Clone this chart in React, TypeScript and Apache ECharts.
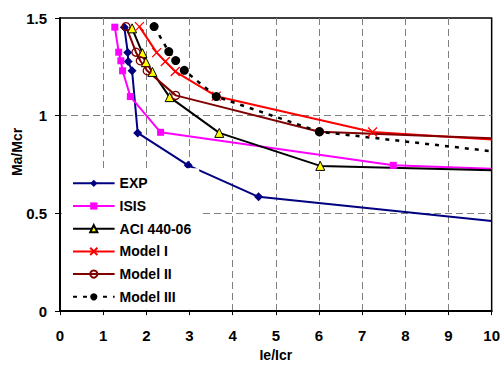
import React, { useEffect, useRef } from "react";
import * as echarts from "echarts";

const seriesNames = ["EXP", "ISIS", "ACI 440-06", "Model I", "Model II", "Model III"];

// last point of each series is where the curve meets the right edge of the plot (no marker)
const expX = [1.49, 1.57, 1.58, 1.67, 1.80, 2.97, 4.60, 10];
const expY = [1.453, 1.323, 1.277, 1.230, 0.912, 0.746, 0.585, 0.461];

const isisX = [1.27, 1.36, 1.41, 1.45, 1.63, 2.33, 7.72, 10];
const isisY = [1.453, 1.325, 1.281, 1.230, 1.098, 0.915, 0.746, 0.728];

const aciX = [1.67, 1.91, 1.99, 2.14, 2.54, 3.69, 6.03, 10];
const aciY = [1.447, 1.320, 1.274, 1.224, 1.095, 0.912, 0.743, 0.721];

const model1X = [1.84, 2.24, 2.44, 2.67, 3.62, 7.24, 10];
const model1Y = [1.456, 1.323, 1.277, 1.226, 1.100, 0.917, 0.878];

const model2X = [1.53, 1.76, 1.86, 2.02, 2.68, 6.01, 10];
const model2Y = [1.456, 1.325, 1.281, 1.230, 1.104, 0.918, 0.885];

const model3X = [2.18, 2.52, 2.68, 2.88, 3.62, 6.01, 10];
const model3Y = [1.456, 1.328, 1.282, 1.232, 1.098, 0.918, 0.818];

const xTickMin = 0;
const xTickMax = 10;
const yTickMin = 0;
const yTickMax = 1.5;

function toData(xs: number[], ys: number[]) {
  return xs.map((x, i) =>
    i === xs.length - 1 ? { value: [x, ys[i]], symbol: "none" } : [x, ys[i]]
  );
}

const FONT = "Liberation Sans, Arial, sans-serif";

export default function App() {
  const ref = useRef<HTMLDivElement>(null);
  useEffect(() => {
    if (!ref.current) return;
    const chart = echarts.init(ref.current, undefined, { renderer: "svg" });
    const gridLine = { show: true, showMinLine: false, showMaxLine: false, lineStyle: { color: "#808080", type: [7, 4], width: 1 } };
    const option: any = {
      animation: false,
      backgroundColor: "#fff",
      textStyle: { fontFamily: FONT },
      grid: {
        left: 60,
        top: 18,
        right: 7.5,
        bottom: 55,
        show: true,
        borderColor: "#000",
        borderWidth: 1.5,
        containLabel: false,
      },
      xAxis: {
        type: "value",
        min: xTickMin,
        max: xTickMax,
        interval: 1,
        name: "Ie/Icr",
        nameLocation: "middle",
        nameGap: 34,
        nameTextStyle: { fontSize: 14, fontWeight: "bold", color: "#000", fontFamily: FONT },
        axisLine: { lineStyle: { color: "#000", width: 2 } },
        axisTick: { show: true, length: 4, lineStyle: { color: "#000", width: 1 } },
        axisLabel: { fontSize: 15, fontWeight: "bold", color: "#000", margin: 17, fontFamily: FONT },
        splitLine: gridLine,
      },
      yAxis: {
        type: "value",
        min: yTickMin,
        max: yTickMax,
        interval: 0.5,
        axisLine: { show: true, lineStyle: { color: "#000", width: 2 } },
        axisTick: { show: true, length: 5, lineStyle: { color: "#000", width: 1 } },
        axisLabel: { fontSize: 15, fontWeight: "bold", color: "#000", margin: 13, fontFamily: FONT },
        splitLine: gridLine,
      },
      graphic: [
        {
          type: "text",
          x: 16.5,
          y: 152,
          rotation: Math.PI / 2,
          style: {
            text: "Ma/Mcr",
            fontSize: 14,
            fontWeight: "bold",
            fontFamily: FONT,
            fill: "#000",
            align: "center",
            verticalAlign: "middle",
          },
        },
      ],
      legend: {
        orient: "vertical",
        left: 62,
        top: 168.3,
        padding: [7, 8, 5, 10],
        backgroundColor: "#fff",
        itemWidth: 41.6,
        itemHeight: 9,
        itemGap: 6.7,
        textStyle: { fontSize: 14, fontWeight: "bold", color: "#000", lineHeight: 16, fontFamily: FONT },
        data: seriesNames,
      },
      series: [
        {
          name: seriesNames[0],
          type: "line",
          data: toData(expX, expY),
          symbol: "diamond",
          symbolSize: 9,
          lineStyle: { color: "#000080", width: 2 },
          itemStyle: { color: "#000080" },
        },
        {
          name: seriesNames[1],
          type: "line",
          data: toData(isisX, isisY),
          symbol: "rect",
          symbolSize: 7,
          lineStyle: { color: "#FF00FF", width: 2 },
          itemStyle: { color: "#FF00FF" },
        },
        {
          name: seriesNames[2],
          type: "line",
          data: toData(aciX, aciY),
          symbol: "triangle",
          symbolSize: 9,
          lineStyle: { color: "#000000", width: 2 },
          itemStyle: { color: "#FFFF00", borderColor: "#000", borderWidth: 1 },
        },
        {
          name: seriesNames[3],
          type: "line",
          data: toData(model1X, model1Y),
          symbol: "path://M0,0L10,10M10,0L0,10",
          symbolSize: 9,
          lineStyle: { color: "#FF0000", width: 2 },
          itemStyle: { color: "#FF0000", borderColor: "#FF0000", borderWidth: 1.3 },
        },
        {
          name: seriesNames[4],
          type: "line",
          data: toData(model2X, model2Y),
          symbol: "circle",
          symbolSize: 8,
          lineStyle: { color: "#800000", width: 2 },
          itemStyle: { color: "rgba(255,255,255,0)", borderColor: "#800000", borderWidth: 1.3 },
        },
        {
          name: seriesNames[5],
          type: "line",
          data: toData(model3X, model3Y),
          symbol: "circle",
          symbolSize: 9,
          lineStyle: { color: "#000000", width: 2.5, type: [4, 6] },
          itemStyle: { color: "#000000" },
        },
      ],
    };
    chart.setOption(option);
    return () => chart.dispose();
  }, []);
  return (
    <div
      ref={ref}
      style={{ position: "fixed", left: 0, top: 0, width: 503, height: 367 }}
    />
  );
}
